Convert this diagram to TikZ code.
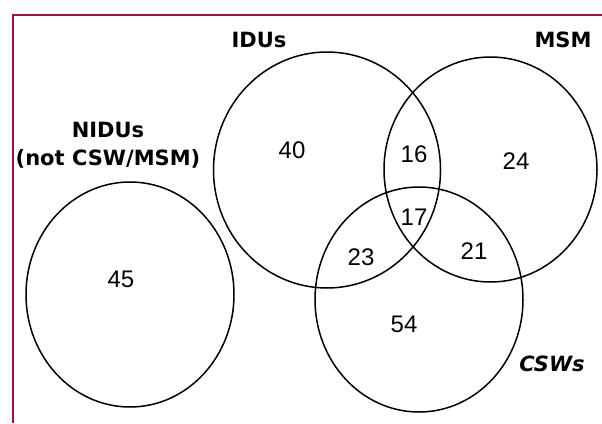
\documentclass[tikz,border=0pt]{standalone}
\usepackage{fontspec}
\newfontfamily\lblfont{DejaVu Sans}
\newfontfamily\numfont{Liberation Sans}
\usetikzlibrary{shapes.geometric}
\definecolor{framered}{RGB}{155,20,60}
\tikzset{
  setc/.style={draw=black, line width=1.5pt, ellipse, inner sep=0pt},
  setlabel/.style={font=\lblfont\bfseries\fontsize{21}{25}\selectfont, align=center, inner sep=0pt},
  count/.style={font=\numfont\fontsize{24}{28}\selectfont, inner sep=0pt},
  frameline/.style={draw=framered, line width=1.2pt}
}
\begin{document}
\begin{tikzpicture}[x=1pt, y=-1pt]
\useasboundingbox (0,0) rectangle (602,423);
\draw[frameline] (13,423) -- (13,15) -- (602,15);
% sets
\node[setc, minimum width=208pt, minimum height=225pt] (nidu) at (130,294.5) {};
\node[setc, minimum width=227pt, minimum height=236pt] (idu) at (327,170) {};
\node[setc, minimum width=213pt, minimum height=225pt] (msm) at (490.5,169.5) {};
\node[setc, minimum width=208pt, minimum height=225pt] (csw) at (419,299.5) {};
% set labels
\node[setlabel] (lidu) at (259,40) {IDUs};
\node[setlabel] (lmsm) at (563,40) {MSM};
\node[setlabel] (lnidu) at (108,145) {NIDUs\\[3pt](not CSW/MSM)};
\node[setlabel, font=\lblfont\bfseries\itshape\fontsize{21}{25}\selectfont] (lcsw) at (552,364) {CSWs};
% counts
\node[count] (n45) at (121,279) {45};
\node[count] (n40) at (292,150) {40};
\node[count] (n16) at (414,154) {16};
\node[count] (n17) at (414,217) {17};
\node[count] (n23) at (361,257) {23};
\node[count] (n24) at (516,161) {24};
\node[count] (n21) at (474,251) {21};
\node[count] (n54) at (404,324) {54};
\end{tikzpicture}
\end{document}
